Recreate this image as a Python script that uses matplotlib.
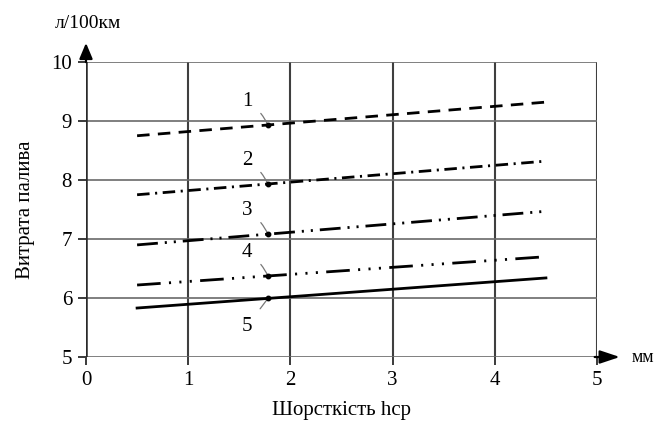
import numpy as np
import matplotlib.pyplot as plt

plt.rcParams['font.family'] = ['Liberation Serif', 'DejaVu Serif']
plt.rcParams['lines.scale_dashes'] = False

# roughness h_cp, mm (ends of each line)
x_vals = [0.5, 4.5]
# fuel consumption, l/100km
line1 = [8.75, 9.32]
line2 = [7.75, 8.32]
line3 = [6.90, 7.47]
line4 = [6.22, 6.70]
line5 = [5.83, 6.34]
curve_labels = ['1', '2', '3', '4', '5']

x_ticks = [0, 1, 2, 3, 4, 5]
y_ticks = [5, 6, 7, 8, 9, 10]

styles = [
    (0, (9, 6)),
    (0, (9, 4, 1.5, 4)),
    (0, (15, 5, 1.5, 5, 1.5, 5)),
    (0, (17, 6, 1.5, 6, 1.5, 6, 1.5, 6)),
    '-',
]

fig = plt.figure(figsize=(6.63, 4.32), dpi=100)
ax = fig.add_axes([0.1297, 0.1736, 0.7708, 0.6829])

ax.set_xlim(0, 5)
ax.set_ylim(5, 10)
ax.set_xticks(x_ticks)
ax.set_yticks(y_ticks)
ax.tick_params(labelsize=15, length=6, color='#3a3a3a', width=1.4, pad=4)

for xv in x_ticks:
    ax.axvline(xv, color='#3f3f3f', lw=1.5, zorder=1)
for yv in y_ticks:
    ax.axhline(yv, color='#6a6a6a', lw=1.2, zorder=1)
ax.axvline(0, color='#2a2a2a', lw=1.8, zorder=2)
for s in ax.spines.values():
    s.set_visible(False)

all_lines = [line1, line2, line3, line4, line5]
for ys, ls in zip(all_lines, styles):
    ax.plot(x_vals, ys, color='black', lw=2.0, linestyle=ls, zorder=3)

# leader lines with numbers
x_mark = 1.78
for i, (ys, lab) in enumerate(zip(all_lines, curve_labels)):
    y_mark = np.interp(x_mark, x_vals, ys)
    dy = -20 if i == 4 else 17
    ax.annotate(lab, xy=(x_mark, y_mark), xytext=(-15, dy), textcoords='offset points',
                ha='center', va='center', fontsize=15,
                arrowprops=dict(arrowstyle='-', color='#777777', lw=0.9,
                                shrinkA=6, shrinkB=0,
                                connectionstyle='arc3,rad=-0.15' if i < 4 else 'arc3,rad=0'),
                zorder=4)
    ax.plot([x_mark], [y_mark], 'o', color='black', ms=3.2, zorder=5)

# axis arrows
ax.annotate('', xy=(0, 10.37), xytext=(0, 9.95), annotation_clip=False,
            arrowprops=dict(arrowstyle='-|>,head_length=0.95,head_width=0.4', color='black', lw=1.6))
ax.annotate('', xy=(5.25, 5), xytext=(4.95, 5), annotation_clip=False,
            arrowprops=dict(arrowstyle='-|>,head_length=1.2,head_width=0.4', color='black', lw=1.6))
ax.text(0.02, 10.65, 'л/100км', fontsize=14, ha='center', va='center', clip_on=False)
ax.text(5.34, 5.0, 'мм', fontsize=13, ha='left', va='center', clip_on=False)

ax.set_xlabel('Шорсткість hср', fontsize=15, labelpad=8)
ax.set_ylabel('Витрата палива', fontsize=15, labelpad=12)

fig.savefig('out.png', dpi=100)
